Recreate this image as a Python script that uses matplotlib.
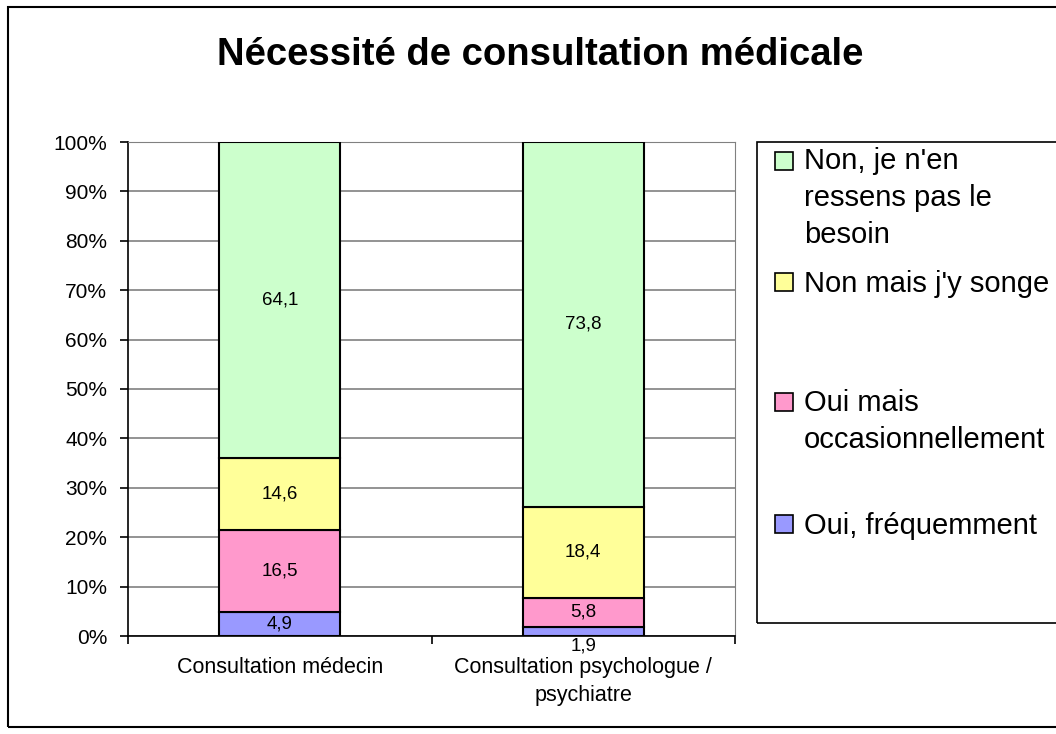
import matplotlib.pyplot as plt
from matplotlib.patches import Rectangle
import numpy as np

plt.rcParams['font.family'] = ['Liberation Sans', 'DejaVu Sans']

# Data (percent of respondents)
categories = ["Consultation médecin", "Consultation psychologue /\npsychiatre"]
series_names = ["Oui, fréquemment", "Oui mais\noccasionnellement",
                "Non mais j'y songe", "Non, je n'en\nressens pas le\nbesoin"]
frequemment = [4.9, 1.9]
occasionnellement = [16.5, 5.8]
songe = [14.6, 18.4]
pas_besoin = [64.1, 73.8]
colors = ['#9999FF', '#FF99CC', '#FFFF99', '#CCFFCC']

series = np.array([frequemment, occasionnellement, songe, pas_besoin])
totals = series.sum(axis=0)
shares = series / totals * 100  # 100% stacked

W, H = 1056, 734
fig = plt.figure(figsize=(W / 100, H / 100), dpi=100)

def fx(px):
    return px / W

def fy(py):
    return 1 - py / H

# outer chart frame
fig.patches.append(Rectangle((fx(8), fy(727)), fx(1100 - 8), fy(7) - fy(727),
                             transform=fig.transFigure, fill=False,
                             edgecolor='black', lw=1.5))

ax = fig.add_axes([fx(128), fy(636), fx(735) - fx(128), fy(142) - fy(636)])

x = np.arange(len(categories))
bottom = np.zeros(len(categories))
for vals, raw, col in zip(shares, series, colors):
    ax.bar(x, vals, 0.4, bottom=bottom, color=col, edgecolor='black', lw=1.5, zorder=3)
    for xi, b, v, r in zip(x, bottom, vals, raw):
        label = f"{r:.1f}".replace('.', ',')
        if v < 3:
            ax.annotate(label, (xi, 0), xytext=(0, -1), textcoords='offset points',
                        ha='center', va='top', fontsize=13.5)
        else:
            ax.text(xi, b + v / 2, label, ha='center', va='center', fontsize=13.5, zorder=4)
    bottom += vals

ax.set_xlim(-0.5, 1.5)
ax.set_ylim(0, 100)
ax.set_yticks(np.arange(0, 101, 10))
ax.set_yticklabels([f"{t}%" for t in range(0, 101, 10)], fontsize=15)
ax.yaxis.grid(True, color='#808080', lw=1.2, zorder=0)
ax.tick_params(axis='y', direction='out', length=6, width=1.2, pad=9)

ax.set_xticks([-0.5, 0.5, 1.5])
ax.set_xticklabels([])
ax.tick_params(axis='x', direction='out', length=6, width=1.2)
for xi, cat in zip(x, categories):
    ax.annotate(cat, (xi, 0), xytext=(0, -15), textcoords='offset points',
                ha='center', va='top', fontsize=15.5, linespacing=1.45)

ax.spines['left'].set_color('black')
ax.spines['bottom'].set_color('black')
ax.spines['left'].set_linewidth(1.2)
ax.spines['bottom'].set_linewidth(1.2)
ax.spines['top'].set_color('#808080')
ax.spines['right'].set_color('#808080')

fig.text(fx(540), fy(55), "Nécessité de consultation médicale", ha='center', va='center',
         fontsize=27.5, fontweight='bold')

# legend drawn by hand to follow the Excel layout
fig.patches.append(Rectangle((fx(757), fy(623)), fx(1100 - 757), fy(142) - fy(623),
                             transform=fig.transFigure, fill=False,
                             edgecolor='black', lw=1.2))
leg_y = [524, 402, 282, 161]
for name, col, yc in zip(series_names, colors, leg_y):
    fig.patches.append(Rectangle((fx(775), fy(yc + 9)), fx(18), fy(yc - 9) - fy(yc + 9),
                                 transform=fig.transFigure, facecolor=col,
                                 edgecolor='black', lw=1.2))
    n_lines = name.count('\n')
    # anchor on the baseline of the last line
    fig.text(fx(804), fy(yc + 10 + n_lines * 36), name, ha='left', va='baseline',
             fontsize=21, linespacing=1.4, multialignment='left')

fig.savefig('out.png', dpi=100)
